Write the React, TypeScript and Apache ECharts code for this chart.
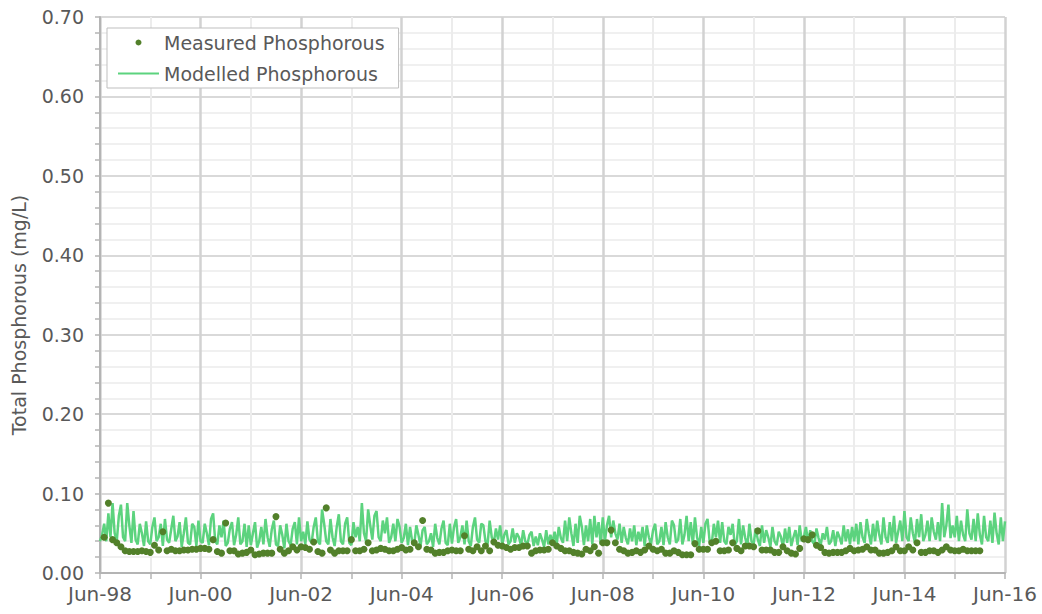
import React, { useEffect, useRef } from "react";
import * as echarts from "echarts";

// x positions are months since Jun-98
const xTickLabels = ["Jun-98", "Jun-00", "Jun-02", "Jun-04", "Jun-06", "Jun-08", "Jun-10", "Jun-12", "Jun-14", "Jun-16"];

// Modelled phosphorous (mg/L), semi-monthly values, one array per year starting in June
const modelled1998 = [0.040,0.048,0.062,0.040,0.075,0.045,0.088,0.050,0.040,0.072,0.086,0.045,0.040,0.088,0.060,0.038,0.078,0.042,0.036,0.062,0.050,0.034,0.065,0.040];
const modelled1999 = [0.036,0.058,0.070,0.040,0.045,0.062,0.034,0.068,0.042,0.038,0.055,0.072,0.040,0.046,0.064,0.033,0.050,0.070,0.038,0.036,0.062,0.058,0.034,0.066];
const modelled2000 = [0.040,0.038,0.062,0.050,0.035,0.068,0.075,0.040,0.036,0.060,0.045,0.066,0.034,0.038,0.056,0.064,0.035,0.048,0.070,0.036,0.040,0.062,0.033,0.060];
const modelled2001 = [0.035,0.050,0.064,0.032,0.040,0.058,0.036,0.068,0.045,0.033,0.055,0.066,0.036,0.034,0.060,0.048,0.031,0.062,0.040,0.035,0.056,0.064,0.036,0.070];
const modelled2002 = [0.040,0.052,0.036,0.065,0.042,0.038,0.058,0.070,0.040,0.036,0.080,0.062,0.040,0.036,0.068,0.045,0.034,0.058,0.074,0.040,0.036,0.062,0.070,0.038];
const modelled2003 = [0.035,0.064,0.045,0.058,0.040,0.088,0.050,0.040,0.080,0.060,0.042,0.072,0.078,0.045,0.040,0.066,0.050,0.070,0.038,0.045,0.062,0.040,0.068,0.058];
const modelled2004 = [0.038,0.044,0.062,0.035,0.058,0.040,0.036,0.060,0.048,0.034,0.054,0.058,0.036,0.040,0.050,0.033,0.062,0.044,0.036,0.056,0.066,0.038,0.035,0.062];
const modelled2005 = [0.037,0.058,0.068,0.038,0.045,0.060,0.036,0.066,0.040,0.034,0.058,0.070,0.042,0.038,0.062,0.060,0.040,0.036,0.066,0.045,0.038,0.056,0.042,0.060];
const modelled2006 = [0.036,0.048,0.054,0.036,0.040,0.056,0.038,0.050,0.045,0.034,0.054,0.040,0.036,0.048,0.052,0.034,0.046,0.035,0.050,0.042,0.033,0.054,0.036,0.048];
const modelled2007 = [0.038,0.052,0.036,0.058,0.044,0.038,0.066,0.040,0.070,0.050,0.034,0.062,0.038,0.072,0.058,0.035,0.060,0.040,0.068,0.036,0.072,0.045,0.064,0.036];
const modelled2008 = [0.070,0.040,0.060,0.072,0.045,0.066,0.050,0.042,0.062,0.038,0.058,0.044,0.036,0.056,0.040,0.060,0.035,0.052,0.040,0.058,0.034,0.060,0.045,0.036];
const modelled2009 = [0.054,0.062,0.036,0.040,0.058,0.035,0.064,0.045,0.036,0.066,0.060,0.038,0.042,0.068,0.036,0.048,0.072,0.040,0.064,0.036,0.070,0.045,0.034,0.058];
const modelled2010 = [0.038,0.062,0.068,0.040,0.036,0.062,0.045,0.066,0.038,0.064,0.040,0.036,0.058,0.048,0.062,0.035,0.040,0.068,0.036,0.060,0.044,0.034,0.062,0.040];
const modelled2011 = [0.036,0.056,0.042,0.034,0.060,0.038,0.054,0.045,0.033,0.058,0.040,0.035,0.052,0.046,0.033,0.056,0.038,0.058,0.034,0.045,0.054,0.035,0.060,0.040];
const modelled2012 = [0.045,0.058,0.038,0.054,0.040,0.036,0.056,0.044,0.035,0.050,0.042,0.058,0.036,0.040,0.054,0.034,0.052,0.045,0.036,0.060,0.040,0.055,0.036,0.058];
const modelled2013 = [0.040,0.062,0.036,0.064,0.045,0.038,0.068,0.050,0.036,0.062,0.040,0.066,0.048,0.036,0.070,0.045,0.038,0.064,0.040,0.072,0.038,0.052,0.066,0.040];
const modelled2014 = [0.078,0.045,0.040,0.070,0.050,0.038,0.068,0.045,0.074,0.040,0.048,0.066,0.040,0.070,0.052,0.042,0.064,0.040,0.088,0.045,0.060,0.086,0.044,0.060];
const modelled2015 = [0.045,0.072,0.040,0.066,0.048,0.040,0.080,0.050,0.042,0.068,0.040,0.075,0.048,0.036,0.072,0.045,0.040,0.066,0.038,0.076,0.050,0.036,0.070,0.040];
const modelledEnd = [0.065];

// Measured phosphorous (mg/L), monthly samples, one array per year starting in July
const measured1998 = [0.045,0.088,0.042,0.038,0.033,0.028,0.027,0.027,0.027,0.028,0.027,0.026];
const measured1999 = [0.035,0.029,0.052,0.028,0.030,0.028,0.028,0.029,0.029,0.030,0.030,0.031];
const measured2000 = [0.031,0.030,0.042,0.027,0.025,0.063,0.028,0.028,0.024,0.025,0.026,0.029];
const measured2001 = [0.023,0.024,0.025,0.025,0.025,0.071,0.030,0.025,0.028,0.033,0.029,0.033];
const measured2002 = [0.032,0.030,0.039,0.027,0.025,0.082,0.029,0.025,0.028,0.028,0.028,0.042];
const measured2003 = [0.028,0.028,0.030,0.038,0.028,0.029,0.031,0.030,0.028,0.028,0.030,0.032];
const measured2004 = [0.029,0.030,0.038,0.033,0.066,0.030,0.029,0.025,0.026,0.026,0.028,0.029];
const measured2005 = [0.028,0.028,0.047,0.030,0.028,0.033,0.028,0.034,0.028,0.039,0.035,0.034];
const measured2006 = [0.032,0.030,0.032,0.032,0.034,0.034,0.025,0.028,0.029,0.029,0.030,0.038];
const measured2007 = [0.034,0.031,0.028,0.028,0.026,0.025,0.024,0.030,0.028,0.033,0.025,0.038];
const measured2008 = [0.038,0.054,0.038,0.030,0.028,0.025,0.026,0.028,0.026,0.029,0.034,0.030];
const measured2009 = [0.028,0.030,0.025,0.025,0.028,0.026,0.023,0.023,0.023,0.037,0.030,0.030];
const measured2010 = [0.030,0.038,0.040,0.028,0.028,0.029,0.038,0.031,0.028,0.034,0.034,0.033];
const measured2011 = [0.053,0.029,0.029,0.029,0.026,0.026,0.033,0.028,0.025,0.024,0.031,0.043];
const measured2012 = [0.042,0.048,0.035,0.032,0.026,0.025,0.026,0.026,0.026,0.028,0.031,0.028];
const measured2013 = [0.029,0.030,0.033,0.029,0.029,0.025,0.025,0.026,0.028,0.033,0.028,0.028];
const measured2014 = [0.033,0.029,0.038,0.026,0.026,0.028,0.028,0.026,0.029,0.033,0.029,0.028];
const measured2015 = [0.028,0.030,0.028,0.028,0.028,0.028];

const modelledYears = [
  modelled1998, modelled1999, modelled2000, modelled2001, modelled2002, modelled2003,
  modelled2004, modelled2005, modelled2006, modelled2007, modelled2008, modelled2009,
  modelled2010, modelled2011, modelled2012, modelled2013, modelled2014, modelled2015, modelledEnd,
];
const measuredYears = [
  measured1998, measured1999, measured2000, measured2001, measured2002, measured2003,
  measured2004, measured2005, measured2006, measured2007, measured2008, measured2009,
  measured2010, measured2011, measured2012, measured2013, measured2014, measured2015,
];

const modelledData: [number, number][] = [];
modelledYears.forEach((arr, k) => arr.forEach((v, j) => modelledData.push([k * 12 + j * 0.5, v])));
const measuredData: [number, number][] = [];
measuredYears.forEach((arr, k) => arr.forEach((v, j) => measuredData.push([k * 12 + j + 1, v])));

const FONT = "DejaVu Sans";
const TEXT = "#595959";
const MODEL_COLOR = "#5cd37e";
const MEAS_COLOR = "#52802a";

export default function App() {
  const ref = useRef<HTMLDivElement>(null);
  useEffect(() => {
    document.body.style.margin = "0";
    const chart = echarts.init(ref.current!, null, { renderer: "svg" });
    chart.setOption({
      animation: false,
      backgroundColor: "#ffffff",
      grid: { left: 100, right: 37, top: 17, bottom: 41 },
      legend: {
        orient: "vertical",
        left: 107,
        top: 28,
        padding: [5, 14, 5, 10],
        itemGap: 12,
        itemWidth: 41,
        itemHeight: 6,
        borderColor: "#bfbfbf",
        borderWidth: 1,
        backgroundColor: "#ffffff",
        textStyle: { fontFamily: FONT, fontSize: 19, color: TEXT },
        data: [
          { name: "Measured Phosphorous" },
          { name: "Modelled Phosphorous", itemStyle: { color: "rgba(0,0,0,0)", borderWidth: 0, opacity: 0 } },
        ],
      },
      xAxis: {
        type: "value",
        min: 0,
        max: 216,
        interval: 24,
        axisLine: { show: true, lineStyle: { color: "#b4b4b4", width: 2 } },
        axisTick: { show: true, length: 6, lineStyle: { color: "#b4b4b4", width: 1.5 } },
        minorTick: { show: true, splitNumber: 2, length: 6, lineStyle: { color: "#b4b4b4", width: 1.5 } },
        axisLabel: {
          fontFamily: FONT,
          fontSize: 20,
          color: TEXT,
          margin: 11,
          formatter: (v: number) => xTickLabels[Math.round(v / 24)] ?? "",
        },
        splitLine: { show: true, lineStyle: { color: "#d2d2d2", width: 2.5 } },
        minorSplitLine: { show: true, lineStyle: { color: "#ececec", width: 2 } },
      },
      yAxis: {
        type: "value",
        min: 0,
        max: 0.7,
        interval: 0.1,
        axisLine: { show: true, lineStyle: { color: "#b4b4b4", width: 2 } },
        axisTick: { show: true, length: 5, lineStyle: { color: "#b4b4b4", width: 1.5 } },
        minorTick: { show: true, splitNumber: 5, length: 5, lineStyle: { color: "#b4b4b4", width: 1.5 } },
        axisLabel: {
          fontFamily: FONT,
          fontSize: 19,
          color: TEXT,
          margin: 16,
          formatter: (v: number) => v.toFixed(2),
        },
        splitLine: { show: true, lineStyle: { color: "#d9d9d9", width: 2 } },
        minorSplitLine: { show: true, lineStyle: { color: "#f0f0f0", width: 2 } },
      },
      graphic: [
        {
          type: "text",
          x: 19,
          y: 315,
          rotation: Math.PI / 2,
          style: {
            text: "Total Phosphorous (mg/L)",
            fontFamily: FONT,
            fontSize: 19,
            fill: TEXT,
            align: "center",
            verticalAlign: "middle",
          },
        },
      ],
      series: [
        {
          name: "Modelled Phosphorous",
          type: "line",
          data: modelledData,
          symbol: "none",
          showSymbol: false,
          lineStyle: { color: MODEL_COLOR, width: 2.5 },
          itemStyle: { color: MODEL_COLOR },
          z: 2,
        },
        {
          name: "Measured Phosphorous",
          type: "scatter",
          data: measuredData,
          symbol: "circle",
          symbolSize: 7,
          itemStyle: { color: MEAS_COLOR, opacity: 1 },
          z: 3,
        },
      ],
    });
    return () => chart.dispose();
  }, []);
  return <div ref={ref} style={{ width: 1042, height: 614 }} />;
}
